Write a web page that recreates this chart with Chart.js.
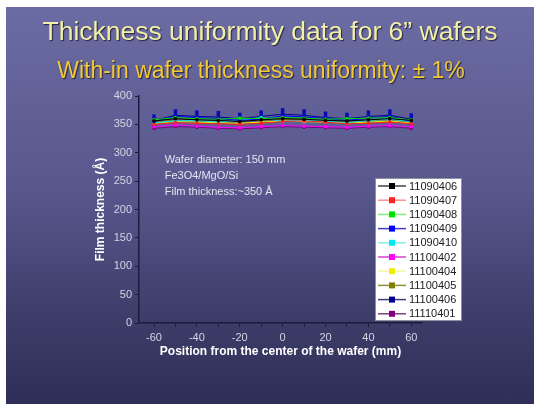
<!DOCTYPE html>
<html>
<head>
<meta charset="utf-8">
<script src="https://cdn.jsdelivr.net/npm/chart.js@4/dist/chart.umd.min.js"></script>
<style>
  html, body { margin: 0; padding: 0; background: #fff; }
  #slide {
    position: absolute; left: 6px; top: 7px; width: 528px; height: 397px;
    background: linear-gradient(180deg, #6c6ca4 0%, #58588e 45%, #3c3c68 80%, #2e2e58 100%);
  }
</style>
</head>
<body>
<div id="slide"><canvas id="chart" width="528" height="397"></canvas></div>
<script>
const positions = [-60, -50, -40, -30, -20, -10, 0, 10, 20, 30, 40, 50, 60];
const waferIds = ['11090406', '11090407', '11090408', '11090409', '11090410',
  '11100402', '11100404', '11100405', '11100406', '11110401'];
const lineColors = ['#000000', '#ff2020', '#00e000', '#0000ff', '#00e8f0',
  '#ff00ff', '#f0f000', '#808000', '#000090', '#800080'];
const legendLineColors = ['#404040', '#ff9090', '#80f080', '#4040c0', '#80f0f0',
  '#d040d0', '#f8f8a0', '#909040', '#404080', '#804080'];

const s11090406 = [356, 360, 358, 357, 355, 358, 360, 359, 357, 356, 358, 360, 357];
const s11090407 = [350, 353, 352, 351, 350, 352, 355, 356, 354, 351, 352, 354, 351];
const s11090408 = [358, 362, 360, 359, 361, 360, 362, 361, 359, 360, 361, 362, 358];
const s11090409 = [355, 364, 362, 360, 357, 359, 365, 363, 360, 357, 361, 364, 356];
const s11090410 = [353, 356, 357, 354, 357, 362, 355, 357, 356, 353, 357, 359, 355];
const s11100402 = [346, 349, 347, 345, 344, 346, 348, 347, 346, 345, 347, 348, 346];
const s11100404 = [352, 355, 354, 353, 352, 354, 356, 355, 354, 352, 354, 356, 352];
const s11100405 = [354, 358, 357, 355, 356, 357, 359, 358, 356, 355, 357, 358, 355];
const s11100406 = [357, 366, 364, 363, 360, 364, 368, 366, 362, 360, 364, 366, 359];
const s11110401 = [343, 346, 345, 343, 342, 344, 346, 345, 344, 343, 345, 346, 343];
const seriesValues = [s11090406, s11090407, s11090408, s11090409, s11090410,
  s11100402, s11100404, s11100405, s11100406, s11110401];

const yTickLabels = [0, 50, 100, 150, 200, 250, 300, 350, 400];
const xTickLabels = [-60, -40, -20, 0, 20, 40, 60];
const notes = ['Wafer diameter: 150 mm', 'Fe3O4/MgO/Si', 'Film thickness:~350 Å'];
const slideTitle = 'Thickness uniformity data for 6\u201D wafers';
const slideSubtitle = 'With-in wafer thickness uniformity: \u00B1 1%';

const fontFamily = "'Liberation Sans', Arial, sans-serif";

const datasets = waferIds.map((id, i) => {
  const isNavy = id === '11100406';
  return {
    label: id,
    data: positions.map((x, j) => ({ x: x, y: seriesValues[i][j] })),
    borderColor: lineColors[i],
    backgroundColor: lineColors[i],
    pointBorderColor: isNavy ? '#0a0ab4' : lineColors[i],
    borderWidth: 1,
    pointStyle: isNavy ? 'line' : 'rect',
    pointRotation: isNavy ? 90 : 0,
    pointRadius: isNavy ? 6 : 1.6,
    pointBorderWidth: isNavy ? 3.5 : 1,
    tension: 0
  };
});

// slide titles, centred on the whole slide (the built-in title squeezes the text)
const slideTitles = {
  id: 'slideTitles',
  afterDraw(chart) {
    const ctx = chart.ctx;
    const cx = chart.width / 2;
    ctx.save();
    ctx.textAlign = 'center';
    ctx.textBaseline = 'middle';
    ctx.shadowColor = 'rgba(20, 20, 40, 0.8)';
    ctx.shadowOffsetX = 1;
    ctx.shadowOffsetY = 1;
    ctx.shadowBlur = 1;
    ctx.font = '26.5px ' + fontFamily;
    ctx.fillStyle = '#f2f0a8';
    ctx.fillText(slideTitle, cx, 26);
    ctx.font = '23px ' + fontFamily;
    ctx.fillStyle = '#f0c838';
    ctx.fillText(slideSubtitle, cx - 9, 65);
    ctx.restore();
  }
};

// white legend box drawn over the plot, like the original
const boxLegend = {
  id: 'boxLegend',
  afterDraw(chart) {
    const ctx = chart.ctx;
    const area = chart.chartArea;
    const left = area.right - 47;
    const top = area.top + 82;
    const width = 87;
    const height = 143;
    const rowGap = 14.2;

    ctx.save();
    ctx.fillStyle = '#ffffff';
    ctx.fillRect(left, top, width, height);
    ctx.strokeStyle = '#9090a0';
    ctx.lineWidth = 1;
    ctx.strokeRect(left + 0.5, top + 0.5, width - 1, height - 1);

    ctx.font = '11px ' + fontFamily;
    ctx.textBaseline = 'middle';
    chart.data.datasets.forEach((ds, i) => {
      const y = top + 8 + i * rowGap;
      ctx.strokeStyle = legendLineColors[i];
      ctx.lineWidth = 1.5;
      ctx.beginPath();
      ctx.moveTo(left + 3, y);
      ctx.lineTo(left + 31, y);
      ctx.stroke();
      ctx.fillStyle = lineColors[i];
      ctx.fillRect(left + 14, y - 3, 6, 6);
      ctx.fillStyle = '#202020';
      ctx.fillText(ds.label, left + 34, y + 0.5);
    });
    ctx.restore();
  }
};

const noteText = {
  id: 'noteText',
  afterDraw(chart) {
    const ctx = chart.ctx;
    const x = chart.scales.x.getPixelForValue(-55);
    const y0 = chart.scales.y.getPixelForValue(287);
    ctx.save();
    ctx.font = '11px ' + fontFamily;
    ctx.fillStyle = '#e4e4f0';
    ctx.textBaseline = 'middle';
    notes.forEach((line, i) => ctx.fillText(line, x, y0 + i * 16));
    ctx.restore();
  }
};

new Chart(document.getElementById('chart'), {
  type: 'line',
  data: { datasets: datasets },
  options: {
    responsive: false,
    animation: false,
    layout: { padding: { left: 83, right: 112, top: 89, bottom: 41 } },
    plugins: {
      legend: { display: false },
      tooltip: { enabled: false }
    },
    scales: {
      x: {
        type: 'linear',
        min: -67,
        max: 65,
        afterFit(scale) { scale.height = 40; },
        afterBuildTicks(scale) {
          scale.ticks = positions.map(v => ({ value: v }));
        },
        border: { color: '#1c1c3c', width: 1.5 },
        grid: { drawOnChartArea: false, tickLength: 4, color: '#1c1c3c' },
        ticks: {
          color: '#d4d4e4',
          font: { family: fontFamily, size: 11 },
          padding: 4,
          callback: v => xTickLabels.includes(v) ? String(v) : ''
        },
        title: {
          display: true,
          text: 'Position from the center of the wafer (mm)',
          color: '#ffffff',
          font: { family: fontFamily, size: 12, weight: 'bold' },
          padding: { top: 2, bottom: 4 }
        }
      },
      y: {
        min: 0,
        max: 400,
        afterFit(scale) { scale.width = 50; },
        afterBuildTicks(scale) {
          const t = [];
          for (let v = 0; v <= 400; v += 25) t.push({ value: v });
          scale.ticks = t;
        },
        border: { color: '#1c1c3c', width: 1.5 },
        grid: { drawOnChartArea: false, tickLength: 4, color: '#1c1c3c' },
        ticks: {
          color: '#d4d4e4',
          font: { family: fontFamily, size: 11 },
          padding: 3,
          callback: v => yTickLabels.includes(v) ? String(v) : ''
        },
        title: {
          display: true,
          text: 'Film thickness (Å)',
          color: '#ffffff',
          font: { family: fontFamily, size: 12, weight: 'bold' },
          padding: { top: 4, bottom: 4 }
        }
      }
    }
  },
  plugins: [noteText, boxLegend, slideTitles]
});
</script>
</body>
</html>
